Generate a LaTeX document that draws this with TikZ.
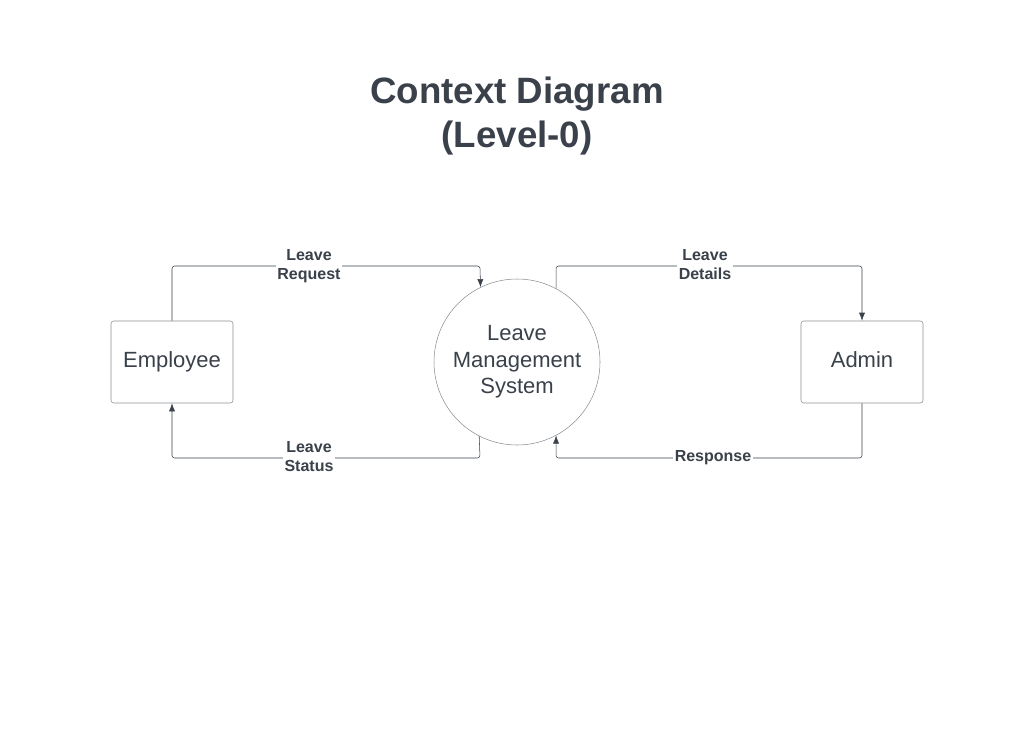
\documentclass[tikz,border=0pt]{standalone}
\usepackage{fontspec}
\setmainfont{Liberation Sans}
\usetikzlibrary{arrows.meta}
\definecolor{ink}{HTML}{3A414A}
\definecolor{rim}{HTML}{8A8D91}

\begin{document}
\begin{tikzpicture}[
x=0.75pt, y=-0.75pt,
boxnode/.style={rectangle, draw=rim, rounded corners=2pt, minimum width=91.5pt, minimum height=61.5pt, inner sep=0pt, text height=12pt, text depth=3.5pt, text=ink, font=\fontsize{16.5}{20}\selectfont},
procnode/.style={circle, draw=rim, minimum size=124.5pt, inner sep=0pt, text=ink, align=center, font=\fontsize{16.5}{20}\selectfont},
flowlabel/.style={fill=white, inner sep=1pt, text=ink, align=center, font=\fontsize{12}{14.3}\selectfont\bfseries},
flow/.style={draw=ink, rounded corners=2pt, -{Latex[length=6pt,width=4.5pt]}},
]
    \useasboundingbox (0,0) rectangle (1034,731);

    \node [text=ink, align=center, font=\fontsize{27.5}{33}\selectfont\bfseries] (title) at (517,116) {Context Diagram\\(Level-0)};

    \node [boxnode] (emp) at (172,362) {Employee};
    \node [procnode] (lms) at (517,362) {Leave\\Management\\System};
    \node [boxnode] (adm) at (862,362) {Admin};

    \coordinate (rq) at (480,266);
    \coordinate (st) at (480,458);
    \coordinate (dt) at (556,266);
    \coordinate (rs) at (556,458);

    \draw [flow] (emp.north) |- (rq) -- (lms.116.5);
    \draw [flow] (lms.243.5) -- (st) -| (emp.south);
    \draw [flow] (lms.62) -- (dt) -| (adm.north);
    \draw [flow] (adm.south) |- (rs) -- (lms.298);

    \node [flowlabel] (lrq) at (309,266) {Leave\\Request};
    \node [flowlabel] (lst) at (309,457) {Leave\\Status};
    \node [flowlabel] (ldt) at (705,265) {Leave\\Details};
    \node [flowlabel] (lrs) at (713,458) {Response};
\end{tikzpicture}
\end{document}
